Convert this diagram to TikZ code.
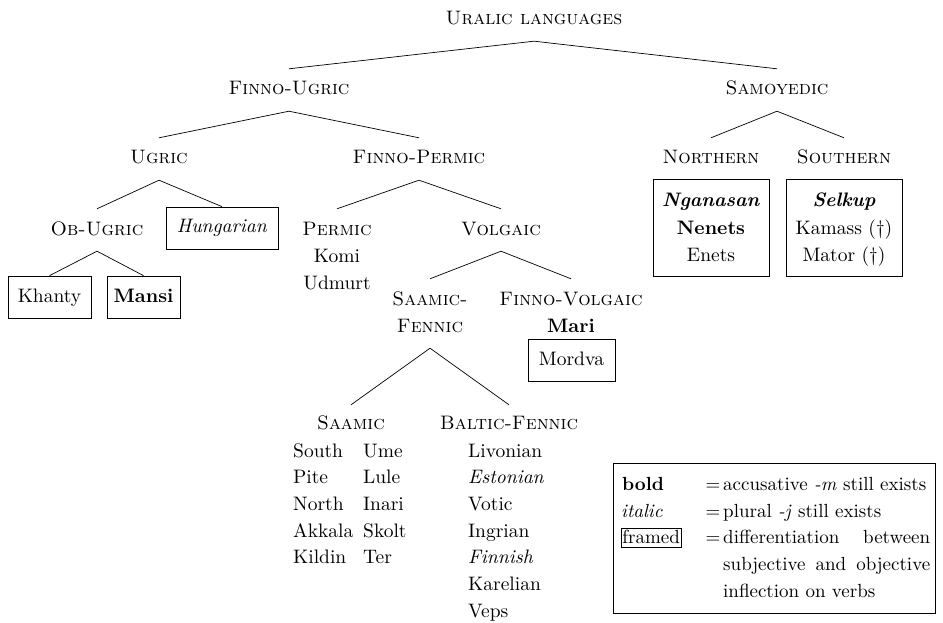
\documentclass[tikz,border=0pt]{standalone}
\usepackage{fontspec}
\setmainfont{lmroman10-regular.otf}[BoldFont=lmroman10-bold.otf, ItalicFont=lmroman10-italic.otf, BoldItalicFont=lmroman10-bolditalic.otf, SmallCapsFont=lmromancaps10-regular.otf]
\begin{document}
\begin{tikzpicture}[x=1pt,y=-1pt, font=\fontsize{19.5}{26.7}\selectfont,
  hd/.style={inner xsep=0pt, inner ysep=11pt, text height=15pt, text depth=5pt, anchor=base},
  tx/.style={inner sep=0pt, anchor=base},
  lg/.style={inner sep=0pt, anchor=base west, font=\fontsize{19}{26.7}\selectfont},
  bx/.style={draw, line width=0.7pt, inner xsep=4pt, inner ysep=0pt, text height=15pt, text depth=5pt, minimum height=42pt},
  br/.style={line width=0.7pt}
]
\useasboundingbox (0,0) rectangle (943,623);
% headers
\node[hd] (ural) at (534,25) {\textsc{Uralic languages}};
\node[hd] (fu) at (289,95) {\textsc{Finno-Ugric}};
\node[hd] (sam) at (777,95) {\textsc{Samoyedic}};
\node[hd] (ug) at (159,164) {\textsc{Ugric}};
\node[hd] (fp) at (419,164) {\textsc{Finno-Permic}};
\node[hd] (north) at (711,164) {\textsc{Northern}};
\node[hd] (south) at (844,164) {\textsc{Southern}};
\node[hd] (ob) at (97,235) {\textsc{Ob-Ugric}};
\node[bx, minimum width=112pt] (hung) at (222,228) {\textit{Hungarian}};
\node[hd] (perm) at (337,235) {\textsc{Permic}};
\node[tx] (komi) at (337,262) {Komi};
\node[tx] (udm) at (337,289) {Udmurt};
\node[hd] (volg) at (501,235) {\textsc{Volgaic}};
\node[bx, minimum width=83pt] (khan) at (49.5,297) {Khanty};
\node[bx, minimum width=73pt] (mansi) at (143.5,297) {\textbf{Mansi}};
\node[hd] (sf1) at (430,305) {\textsc{Saamic-}};
\node[hd] (sf2) at (430,332) {\textsc{Fennic}};
\node[hd] (fv) at (571,305) {\textsc{Finno-Volgaic}};
\node[tx] (mari) at (571,332) {\textbf{Mari}};
\node[bx, minimum width=87pt] (mord) at (571.5,360.5) {Mordva};
\node[hd, inner ysep=9pt] (saa) at (351,429) {\textsc{Saamic}};
\node[hd, inner ysep=9pt] (bf) at (509,429) {\textsc{Baltic-Fennic}};
% Saamic lists
\foreach \w [count=\i from 0] in {South,Pite,North,Akkala,Kildin}
  \node[tx, anchor=base west] (sa\i) at (293,{457+26.7*\i}) {\w};
\foreach \w [count=\i from 0] in {Ume,Lule,Inari,Skolt,Ter}
  \node[tx, anchor=base west] (sb\i) at (363,{457+26.7*\i}) {\w};
\foreach \w [count=\i from 0] in {Livonian,\textit{Estonian},Votic,Ingrian,\textit{Finnish},Karelian,Veps}
  \node[tx, anchor=base west] (bfl\i) at (468,{457+26.7*\i}) {\w};
% Samoyedic boxes
\node[draw, line width=0.7pt, minimum width=116pt, minimum height=97pt, inner sep=0pt] (nbox) at (711,227.5) {};
\node[tx] (ngan) at (711,207) {\textbf{\textit{Nganasan}}};
\node[tx] (nen) at (711,234) {\textbf{Nenets}};
\node[tx] (ene) at (711,261) {Enets};
\node[draw, line width=0.7pt, minimum width=116pt, minimum height=97pt, inner sep=0pt] (sbox) at (844,227.5) {};
\node[tx] (sel) at (844,207) {\textbf{\textit{Selkup}}};
\node[tx] (kam) at (844,234) {Kamass (\dag)};
\node[tx] (mat) at (844,261) {Mator (\dag)};
% connectors
\draw[br] (fu.north) -- (ural.south) -- (sam.north);
\draw[br] (ug.north) -- (fu.south) -- (fp.north);
\draw[br] (north.north) -- (sam.south) -- (south.north);
\draw[br] (ob.north) -- (ug.south) -- (hung.north);
\draw[br] (perm.north) -- (fp.south) -- (volg.north);
\draw[br] (khan.north) -- (ob.south) -- (mansi.north);
\draw[br] (sf1.north) -- (volg.south) -- (fv.north);
\draw[br] (saa.north) -- (sf2.south) -- (bf.north);
% legend
\node[draw, line width=0.7pt, minimum width=322pt, minimum height=150pt, inner sep=0pt] (leg) at (774,538) {};
\node[lg] (lb) at (622,490) {\textbf{bold}};
\node[lg] (li) at (621,517) {\textit{italic}};
\node[lg, draw, line width=0.5pt, inner xsep=1pt, inner ysep=1pt, text height=13.5pt, text depth=3pt] (lf) at (621,543) {framed};
\node[lg, anchor=base] (e1) at (713,490) {=};
\node[lg, anchor=base] (e2) at (713,517) {=};
\node[lg, anchor=base] (e3) at (713,543) {=};
\node[lg] (t1) at (723,490) {accusative \textit{-m} still exists};
\node[lg] (t2) at (723,517) {plural \textit{-j} still exists};
\node[lg] (t3) at (723,543) {\makebox[207pt][s]{differentiation between}};
\node[lg] (t4) at (723,570) {\makebox[207pt][s]{subjective and objective}};
\node[lg] (t5) at (723,597) {inflection on verbs};
\end{tikzpicture}
\end{document}
